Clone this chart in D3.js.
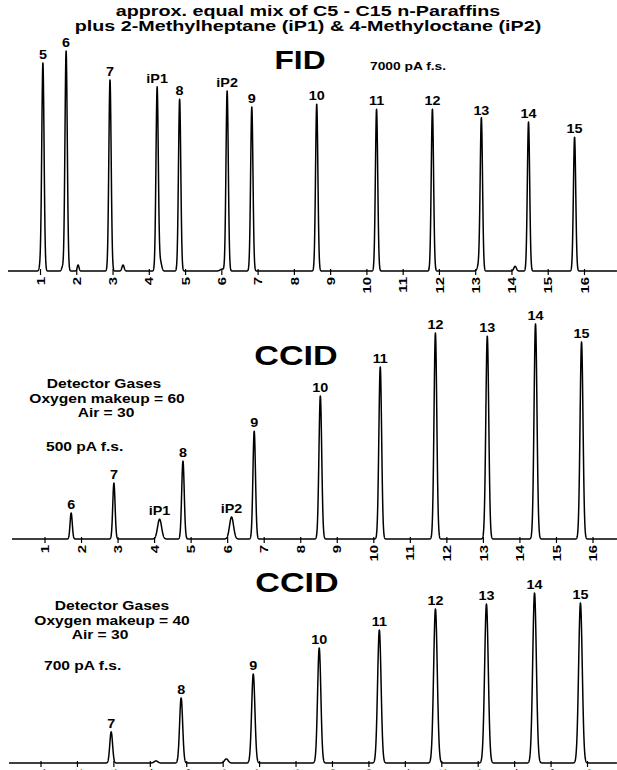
<!DOCTYPE html>
<html><head><meta charset="utf-8">
<script src="https://cdn.jsdelivr.net/npm/d3@7"></script>
<style>
html,body{margin:0;padding:0;background:#fff;overflow:hidden}
text{font-family:"Liberation Sans",Arial,sans-serif;font-weight:bold;fill:#000}
</style></head><body>
<svg id="c" width="617" height="770"></svg>
<script>
// ---------------- DATA ----------------
const titleLines = ["approx. equal mix of C5 - C15 n-Paraffins",
                    "plus 2-Methylheptane (iP1) & 4-Methyloctane (iP2)"];
const tickValues = [1,2,3,4,5,6,7,8,9,10,11,12,13,14,15,16];

// FID panel (pA, 7000 pA full scale)
const fidLabels  = ["5","6","7","iP1","8","iP2","9","10","11","12","13","14","15"];
const fidTimes   = [1.08,1.72,2.93,4.23,4.85,6.16,6.84,8.63,10.28,11.82,13.17,14.47,15.74];
const fidHeights = [6620,7000,6080,5850,5470,5730,5220,5310,5150,5150,4840,4740,4260];
const fidMinorTimes   = [1.00,1.62,2.05,3.29,4.32,6.02,13.10,14.10];
const fidMinorHeights = [130,120,190,190,290,60,190,150];

// CCID panel, O2 makeup 60 (pA, 500 pA full scale)
const ccid60Labels  = ["6","7","iP1","8","iP2","9","10","11","12","13","14","15"];
const ccid60Times   = [1.73,2.90,4.15,4.79,6.12,6.74,8.55,10.19,11.70,13.12,14.44,15.70];
const ccid60Heights = [59,127,45,177,50,245,325,391,468,461,489,448];

// CCID panel, O2 makeup 40 (pA, 700 pA full scale)
const ccid40Labels  = ["7","8","9","10","11","12","13","14","15"];
const ccid40Times   = [2.94,4.86,6.84,8.65,10.30,11.84,13.24,14.56,15.82];
const ccid40Heights = [121,253,346,447,517,599,618,661,622];
const ccid40MinorTimes   = [4.17,6.10];
const ccid40MinorHeights = [8,16];

const fidNotes    = ["7000 pA f.s."];
const ccid60Notes = ["Detector Gases","Oxygen makeup = 60","Air = 30","500 pA f.s."];
const ccid40Notes = ["Detector Gases","Oxygen makeup = 40","Air = 30","700 pA f.s."];

// ---------------- DRAW ----------------
const svg = d3.select("#c");
const SX = 1.2;
function txt(g, x, y, s, size, anchor, sx) {
  return g.append("text")
    .attr("transform", `translate(${x},${y}) scale(${sx||SX},1)`)
    .attr("text-anchor", anchor || "middle")
    .style("font-size", size + "px")
    .text(s);
}

txt(svg, 308, 15.5, titleLines[0], 14.5, "middle", 1.36);
txt(svg, 308, 31, titleLines[1], 14.5, "middle", 1.36);

function panel(cfg, labels, times, heights, sig, minorT, minorH, minorSig) {
  const g = svg.append("g");
  const x = d3.scaleLinear().domain([1,16]).range([cfg.x1, cfg.x16]);
  const y = d3.scaleLinear().domain([0, cfg.fs]).range([cfg.base, cfg.base - cfg.h]);
  const t0 = x.invert(cfg.left), t1 = x.invert(617);
  const peaks = times.map((t,i)=>({t, h:heights[i], s: (sig[i]||sig[0])}));
  (minorT||[]).forEach((t,i)=>peaks.push({t, h:minorH[i], s:(minorSig && minorSig[i]) || 0.05}));
  const pts = [];
  for (let t = t0; t <= t1; t += 0.003) {
    let v = 0;
    peaks.forEach(p => { const d = (t - p.t)/p.s; if (Math.abs(d) < 7) v += p.h*Math.exp(-0.5*d*d); });
    pts.push([t, v]);
  }
  g.append("path").datum(pts)
    .attr("d", d3.line().x(d=>x(d[0])).y(d=>y(d[1])))
    .attr("fill","none").attr("stroke","#000").attr("stroke-width",1.5)
    .attr("stroke-linejoin","round");
  // axis ticks
  const ax = g.append("g").attr("transform",`translate(0,${cfg.base})`)
    .call(d3.axisBottom(x).tickValues(tickValues).tickSize(4).tickFormat(d3.format("d")));
  ax.select(".domain").remove();
  ax.selectAll(".tick line").attr("y1",-2).attr("y2",4).attr("stroke","#000").attr("stroke-width",1.2);
  ax.selectAll(".tick text")
    .attr("y",null).attr("dy",null)
    .attr("transform","translate(0,6) rotate(-90) scale(1.3,1)")
    .attr("x",0).attr("dy","0.36em")
    .attr("text-anchor","end")
    .style("font-size","11.5px").style("font-family","Liberation Sans, Arial, sans-serif")
    .style("font-weight","bold").attr("fill","#000");
  // peak labels
  times.forEach((t,i)=>{
    txt(g, x(t), y(heights[i]) - 4, labels[i], 12.5, "middle", 1.15);
  });
  return g;
}

const fid = panel({x1:40, x16:584, base:271, h:220, fs:7000, left:8},
  fidLabels, fidTimes, fidHeights, [0.032], fidMinorTimes, fidMinorHeights,
  [0.025,0.025,0.025,0.03,0.035,0.05,0.04,0.035]);
txt(fid, 300, 69, "FID", 26, "middle", 1.22);
txt(fid, 370, 70, fidNotes[0], 11.5, "start", 1.2);

const c60 = panel({x1:44.5, x16:592.5, base:539, h:220, fs:500, left:12},
  ccid60Labels, ccid60Times, ccid60Heights,
  [0.03,0.032,0.055,0.035,0.055,0.035,0.038,0.038,0.038,0.04,0.04,0.04]);
txt(c60, 296, 365, "CCID", 28, "middle", 1.22);
txt(c60, 104, 388, ccid60Notes[0], 13, "middle", 1.2);
txt(c60, 107, 403, ccid60Notes[1], 13, "middle", 1.2);
txt(c60, 106, 417, ccid60Notes[2], 13, "middle", 1.2);
txt(c60, 46, 451, ccid60Notes[3], 13, "start", 1.2);

const c40 = panel({x1:40.5, x16:587, base:763, h:180, fs:700, left:9},
  ccid40Labels, ccid40Times, ccid40Heights, [0.038,0.042,0.045,0.045,0.048,0.05,0.05,0.05,0.05],
  ccid40MinorTimes, ccid40MinorHeights, [0.05,0.05]);
txt(c40, 297, 592, "CCID", 28, "middle", 1.22);
txt(c40, 112, 610, ccid40Notes[0], 13, "middle", 1.2);
txt(c40, 112, 625, ccid40Notes[1], 13, "middle", 1.2);
txt(c40, 100, 639, ccid40Notes[2], 13, "middle", 1.2);
txt(c40, 44, 670, ccid40Notes[3], 13, "start", 1.2);
</script>
</body></html>
